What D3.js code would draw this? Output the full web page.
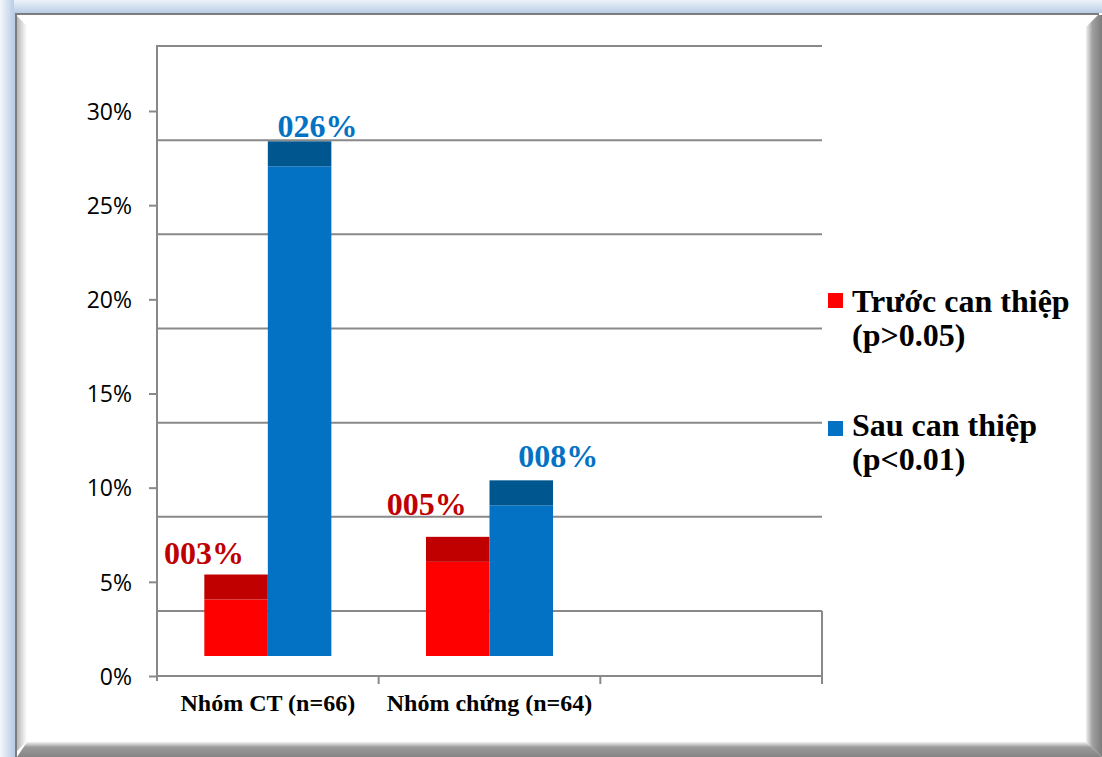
<!DOCTYPE html>
<html>
<head>
<meta charset="utf-8">
<script src="https://cdn.jsdelivr.net/npm/d3@7"></script>
<style>
  html, body { margin: 0; padding: 0; background: #ffffff; }
  svg { display: block; }
</style>
</head>
<body>
<svg id="chart" width="1102" height="757"></svg>
<script>
// ---- data ----
const categories = ["Nhóm CT (n=66)", "Nhóm chứng (n=64)"];
const seriesNames = ["Trước can thiệp", "Sau can thiệp"];
const seriesNotes = ["(p>0.05)", "(p<0.01)"];
const beforeValues = [0.03, 0.05];
const afterValues = [0.26, 0.08];
const yTicks = [0, 0.05, 0.10, 0.15, 0.20, 0.25, 0.30];

// ---- look ----
const frontColors = ["#FF0000", "#0472C4"];
const topColors = ["#C00000", "#00568F"];
const labelColors = ["#C00000", "#0472C4"];
const gridColor = "#898989";
const serif = "'Liberation Serif', 'Times New Roman', serif";

// nudges for the value labels, relative to each bar's centre / front top
const labelNudge = [
  [[-32, -36], [18, -29]],
  [[-31, -47], [37, -38]]
];

const W = 1102, H = 757;
const svg = d3.select("#chart");
const defs = svg.append("defs");

function linGrad(id, x1, y1, x2, y2, stops) {
  const g = defs.append("linearGradient").attr("id", id)
    .attr("x1", x1).attr("y1", y1).attr("x2", x2).attr("y2", y2);
  stops.forEach(s => g.append("stop").attr("offset", s[0]).attr("stop-color", s[1]));
}
linGrad("bgLeft", 0, 0, 1, 0, [[0, "#f4f7fc"], [1, "#b9cde6"]]);
linGrad("bgTop", 0, 0, 0, 1, [[0, "#eef3fa"], [1, "#b9cde6"]]);
linGrad("bevelLeft", 0, 0, 1, 0, [[0, "#b8b8b8"], [1, "#ffffff"]]);
linGrad("bevelRight", 0, 0, 1, 0, [[0, "#f0f0f0"], [0.4, "#a0a0a0"], [1, "#7c7c7c"]]);
linGrad("bevelBottom", 0, 0, 0, 1, [[0, "#f2f2f2"], [0.35, "#9a9a9a"], [1, "#858585"]]);

// ---- picture frame ----
svg.append("rect").attr("width", W).attr("height", H).attr("fill", "#b9cde6");
svg.append("rect").attr("x", 0).attr("y", 0).attr("width", 14).attr("height", H).attr("fill", "url(#bgLeft)");
svg.append("rect").attr("x", 14).attr("y", 0).attr("width", W - 14).attr("height", 13).attr("fill", "url(#bgTop)");
svg.append("rect").attr("x", 15).attr("y", 13).attr("width", W - 15).attr("height", H - 13).attr("fill", "#ffffff");
svg.append("path").attr("d", "M17,16 L27,26 L27,741 L17,751 Z").attr("fill", "url(#bevelLeft)");
svg.append("path").attr("d", "M1086,27 L1098,15 L1102,15 L1102,757 L1086,742 Z").attr("fill", "url(#bevelRight)");
svg.append("path").attr("d", "M17,757 L27,742 L1086,742 L1102,757 Z").attr("fill", "url(#bevelBottom)");
svg.append("path").attr("d", "M16,757 L16,14 L1099,14").attr("fill", "none")
  .attr("stroke", "#7c7c7c").attr("stroke-width", 2);

// ---- scales ----
const plotLeft = 157, plotRight = 822;
const slots = d3.range(3); // two groups plus an empty third slot on the axis
const x = d3.scaleBand().domain(slots).range([plotLeft, plotRight]);
const x1 = d3.scaleBand().domain([0, 1]).range([0, x.bandwidth()]).paddingOuter(0.745);
const y = d3.scaleLinear().domain([0, 0.30]).range([676, 111]);

const wallDepth = 65;  // back wall sits this far above the front plane
const barFront = 20;   // bars stand this far behind the front edge
const barDepth = 25;   // visible top face of each bar

const g = svg.append("g");

// back wall gridlines
g.selectAll("line.grid").data(yTicks).join("line")
  .attr("class", "grid")
  .attr("x1", plotLeft).attr("x2", plotRight)
  .attr("y1", d => y(d) - wallDepth).attr("y2", d => y(d) - wallDepth)
  .attr("stroke", gridColor).attr("stroke-width", 2);

// floor outline
g.append("line").attr("x1", plotLeft).attr("x2", plotRight)
  .attr("y1", y(0)).attr("y2", y(0)).attr("stroke", gridColor).attr("stroke-width", 2);
g.append("line").attr("x1", plotRight).attr("x2", plotRight)
  .attr("y1", y(0) - wallDepth).attr("y2", y(0) + 8).attr("stroke", gridColor).attr("stroke-width", 2);

// category ticks
g.selectAll("line.xtick").data(slots.slice(1)).join("line")
  .attr("class", "xtick")
  .attr("x1", d => x(d)).attr("x2", d => x(d))
  .attr("y1", y(0)).attr("y2", y(0) + 8)
  .attr("stroke", gridColor).attr("stroke-width", 2);

// y axis
const yAxis = d3.axisLeft(y).tickValues(yTicks).tickFormat(d3.format(".0%"))
  .tickSize(8).tickPadding(17);
const ya = g.append("g").attr("transform", `translate(${plotLeft},0)`).call(yAxis);
ya.select(".domain").remove();
ya.selectAll(".tick line").attr("stroke", gridColor).attr("stroke-width", 2);
ya.selectAll(".tick text")
  .attr("font-family", "'Open Sans', sans-serif").attr("font-size", 23)
  .attr("fill", "#000").attr("dy", "0.36em");
g.append("line").attr("x1", plotLeft).attr("x2", plotLeft)
  .attr("y1", y(0.30) - wallDepth - 1).attr("y2", y(0) + 5)
  .attr("stroke", gridColor).attr("stroke-width", 2);

// bars
const rows = categories.map((c, i) => ({
  cat: c, i,
  vals: [beforeValues[i], afterValues[i]]
}));
const base = y(0) - barFront;
rows.forEach(r => {
  r.vals.forEach((v, s) => {
    const bx = x(r.i) + x1(s);
    const bw = x1.bandwidth();
    const top = y(v) - barFront;
    g.append("rect").attr("x", bx).attr("y", top).attr("width", bw)
      .attr("height", base - top).attr("fill", frontColors[s]);
    g.append("rect").attr("x", bx).attr("y", top - barDepth).attr("width", bw)
      .attr("height", barDepth).attr("fill", topColors[s]);
    const nd = labelNudge[r.i][s];
    g.append("text")
      .attr("x", bx + bw / 2 + nd[0]).attr("y", top + nd[1])
      .attr("text-anchor", "middle")
      .attr("font-family", serif).attr("font-weight", "bold").attr("font-size", 32)
      .attr("fill", labelColors[s])
      .text(d3.format("04.0%")(v));
  });
});

// category labels
g.selectAll("text.cat").data(categories).join("text")
  .attr("class", "cat")
  .attr("x", (d, i) => x(i) + x.bandwidth() / 2)
  .attr("y", 711)
  .attr("text-anchor", "middle")
  .attr("font-family", serif).attr("font-weight", "bold").attr("font-size", 24)
  .attr("fill", "#000")
  .text(d => d);

// legend
const legend = g.append("g").attr("transform", "translate(828,293)");
seriesNames.forEach((name, s) => {
  const ly = s * 128;
  legend.append("rect").attr("x", 0).attr("y", ly).attr("width", 15).attr("height", 15)
    .attr("fill", frontColors[s]);
  const t = legend.append("text").attr("x", 24).attr("y", ly + 19 - s * 4)
    .attr("font-family", serif).attr("font-weight", "bold").attr("font-size", 32)
    .attr("fill", "#000");
  t.append("tspan").attr("x", 24).text(name);
  t.append("tspan").attr("x", 24).attr("dy", 34).text(seriesNotes[s]);
});
</script>
</body>
</html>
